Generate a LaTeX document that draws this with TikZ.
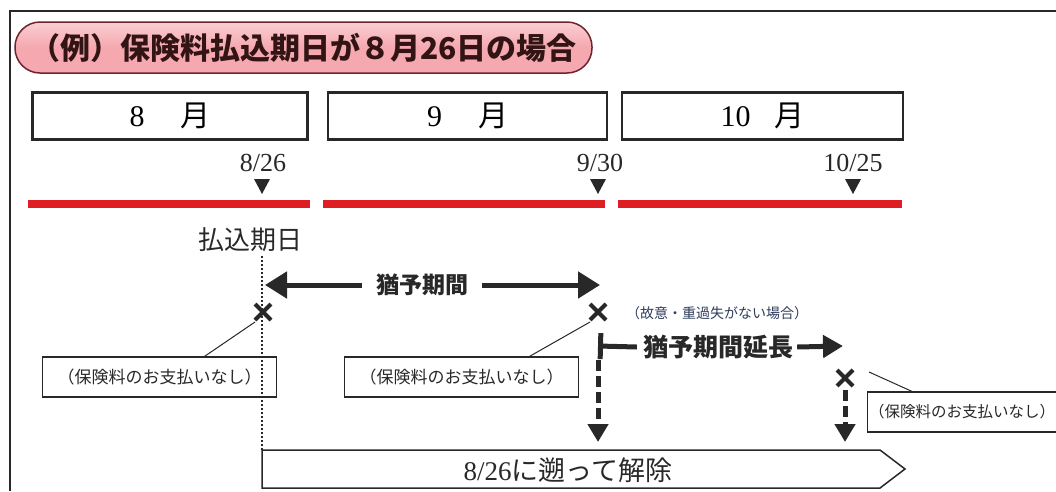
\documentclass[tikz,border=0pt]{standalone}
\usepackage{fontspec}
\setmainfont{Liberation Serif}
\newfontfamily\jp{Noto Sans CJK JP}
\usetikzlibrary{arrows.meta,calc}
\definecolor{barred}{RGB}{222,30,35}
\definecolor{pinkfill}{RGB}{245,168,175}
\definecolor{pinkline}{RGB}{110,35,45}
\definecolor{ink}{RGB}{40,40,40}
\definecolor{bluish}{RGB}{45,60,90}
\tikzset{
  monthbox/.style={draw=ink,line width=2.5pt,minimum width=275pt,minimum height=47pt,inner sep=0pt,fill=white},
  redbar/.style={draw=barred,line width=8pt},
  tri/.style={fill=ink},
  datelbl/.style={font=\fontsize{26}{26}\selectfont,inner sep=0pt,text=ink},
  nopay/.style={draw=ink,line width=1.2pt,minimum width=234pt,minimum height=40pt,inner sep=0pt,font=\jp\fontsize{17}{17}\selectfont,text=ink},
  xmark/.style={draw=ink,line width=4pt},
  callout/.style={draw=ink,line width=1pt},
  dasharrow/.style={draw=ink,line width=5pt,dash pattern=on 11pt off 5pt,-{Triangle[length=18pt,width=20pt]}},
}
\begin{document}
\begin{tikzpicture}[x=1pt,y=-1pt]
\useasboundingbox (0,0) rectangle (1056,491);
\fill[white] (0,0) rectangle (1056,491);
% outer frame
\draw[ink,line width=1.5pt] (10,491) -- (10,11) -- (1056,11);
% title pill
\node[draw=pinkline,line width=1.5pt,top color=pinkfill!55,bottom color=pinkfill,middle color=pinkfill,rounded corners=25pt,minimum width=577pt,minimum height=51pt,inner sep=0pt,font=\jp\bfseries\fontsize{30}{30}\selectfont,text={rgb,255:red,50;green,20;blue,20}] (title) at (303.5,47.5) {（例）保険料払込期日が８月26日の場合};
% month boxes
\node[monthbox] (m8) at (170,116) {\fontsize{30}{30}\selectfont 8\hspace{1.2em}{\jp 月}};
\node[monthbox,minimum width=279pt] (m9) at (467.5,116) {\fontsize{30}{30}\selectfont 9\hspace{1.2em}{\jp 月}};
\node[monthbox,minimum width=281pt] (m10) at (762.5,116) {\fontsize{30}{30}\selectfont 10\hspace{0.8em}{\jp 月}};
% dates
\node[datelbl] (d826) at (263,163) {8/26};
\node[datelbl] (d930) at (600,163) {9/30};
\node[datelbl] (d1025) at (853,163) {10/25};
\fill[tri] (254,179) -- (270,179) -- (262,194) -- cycle;
\fill[tri] (590,179) -- (606,179) -- (598,194) -- cycle;
\fill[tri] (845,179) -- (861,179) -- (853,194) -- cycle;
% red bars
\draw[redbar] (28,204) -- (310,204);
\draw[redbar] (323,204) -- (605,204);
\draw[redbar] (618,204) -- (902,204);
% payment date
\node[font=\jp\fontsize{26}{26}\selectfont,text=ink,inner sep=0pt] (pay) at (250,240) {払込期日};
\coordinate (dtop) at (262,256);
\coordinate (dbot) at (262,450);
\draw[ink,line width=1.2pt,dash pattern=on 2pt off 2pt] (dtop) -- (dbot);
% grace period arrow
\node[font=\jp\bfseries\fontsize{23}{23}\selectfont,text=ink,inner sep=0pt] (grace) at (422,285) {猶予期間};
\coordinate (gL) at (265,285);
\coordinate (gR) at (600,285);
\draw[ink,line width=5pt,-{Triangle[length=22pt,width=26pt]}] (grace.west) ++(-14,0) -- (gL);
\draw[ink,line width=5pt,-{Triangle[length=22pt,width=26pt]}] (grace.east) ++(14,0) -- (gR);
% x marks
\foreach \n/\x/\y in {xa/263/312, xb/598/312, xc/845/378}{
  \coordinate (\n) at (\x,\y);
  \draw[xmark] (\x-8,\y-8) -- (\x+8,\y+8) (\x-8,\y+8) -- (\x+8,\y-8);
}
% no payment boxes
\node[nopay] (np1) at (159.5,377) {（保険料のお支払いなし）};
\node[nopay] (np2) at (461.5,377) {（保険料のお支払いなし）};
\node[nopay,minimum width=189pt,anchor=west,font=\jp\fontsize{15.5}{15.5}\selectfont] (np3) at (867,412) {（保険料のお支払いなし）};
\draw[callout] ($(xa)+(-8,10)$) -- ($(np1.north)+(45,0)$);
\draw[callout] ($(xb)+(-8,10)$) -- ($(np2.north)+(68,0)$);
\draw[callout] ($(xc)+(24,-6)$) -- ($(np3.north west)+(45,0)$);
% note
\node[font=\jp\fontsize{14}{14}\selectfont,text=bluish,inner sep=0pt] (note) at (717,313) {（故意・重過失がない場合）};
% extension arrow
\node[font=\jp\bfseries\fontsize{25}{25}\selectfont,text=ink,inner sep=0pt] (ext) at (718,347) {猶予期間延長};
\coordinate (eL) at (598,346);
\coordinate (eR) at (843,346);
\draw[ink,line width=5pt,{Bar[width=26pt]}-] (eL) -- ($(ext.west)+(-6,0)$);
\draw[ink,line width=5pt,-{Triangle[length=20pt,width=22pt]}] ($(ext.east)+(4,0)$) -- (eR);
% dashed downward arrows
\coordinate (a1t) at (598,360);
\coordinate (a1b) at (598,442);
\coordinate (a2t) at (845,390);
\coordinate (a2b) at (845,442);
\draw[dasharrow] (a1t) -- (a1b);
\draw[dasharrow] (a2t) -- (a2b);
% big arrow
\draw[ink,line width=1.5pt,fill=white] (262,450) -- (880,450) -- (905,469) -- (880,488) -- (262,488) -- cycle;
\node[text=ink,inner sep=0pt] (cancel) at (568,470) {\fontsize{27}{27}\selectfont 8/26{\jp に遡って解除}};
\end{tikzpicture}
\end{document}
